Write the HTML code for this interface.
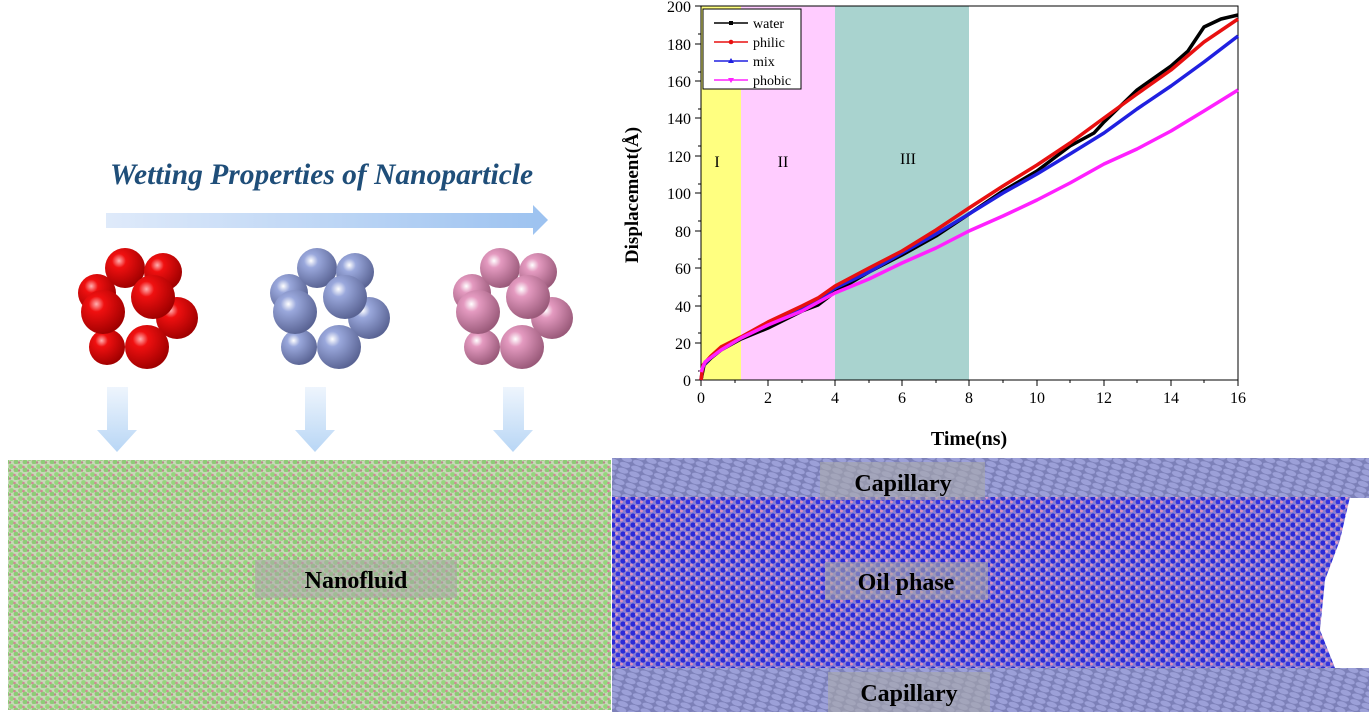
<!DOCTYPE html>
<html><head><meta charset="utf-8"><style>
html,body{margin:0;padding:0;background:#fff;}
svg{display:block;font-family:"Liberation Serif",serif;}
</style></head><body>
<svg width="1369" height="712" viewBox="0 0 1369 712" xmlns="http://www.w3.org/2000/svg">
<defs>
<linearGradient id="arr" x1="0" x2="1"><stop offset="0" stop-color="#dfeafa"/><stop offset="1" stop-color="#9cc2f0"/></linearGradient>
<linearGradient id="darr" x1="0" x2="0" y1="0" y2="1"><stop offset="0" stop-color="#eef5fd"/><stop offset="1" stop-color="#b8d6f5"/></linearGradient>
<radialGradient id="gr" cx="0.35" cy="0.32" r="0.7"><stop offset="0" stop-color="#ffb0b0"/><stop offset="0.25" stop-color="#f01010"/><stop offset="1" stop-color="#a00000"/></radialGradient>
<radialGradient id="gb" cx="0.35" cy="0.32" r="0.7"><stop offset="0" stop-color="#ffffff"/><stop offset="0.25" stop-color="#9aa8dc"/><stop offset="1" stop-color="#5a6494"/></radialGradient>
<radialGradient id="gp" cx="0.35" cy="0.32" r="0.7"><stop offset="0" stop-color="#ffffff"/><stop offset="0.25" stop-color="#e49ac0"/><stop offset="1" stop-color="#9a5a7a"/></radialGradient>
<pattern id="nf" width="9" height="8" patternUnits="userSpaceOnUse">
<rect width="9" height="8" fill="#c8d8b8"/>
<circle cx="2.5" cy="2.5" r="2.4" fill="#94d67c"/><circle cx="7" cy="6" r="2.4" fill="#8ccc76"/>
<circle cx="5.5" cy="3" r="1.3" fill="#d08898"/><circle cx="1" cy="6.5" r="1.2" fill="#b88a8a"/>
</pattern>
<pattern id="oil" width="10" height="9" patternUnits="userSpaceOnUse">
<rect width="10" height="9" fill="#8a7fd0"/>
<circle cx="3" cy="3" r="2.6" fill="#2a2ad8"/><circle cx="8" cy="7" r="2.4" fill="#3434e0"/>
<circle cx="6.5" cy="2.5" r="1.4" fill="#e8a0c8"/><circle cx="1.5" cy="7" r="1.4" fill="#dd90c0"/>
</pattern>
<pattern id="cap" width="12" height="6" patternUnits="userSpaceOnUse" patternTransform="rotate(18)">
<rect width="12" height="6" fill="#7c80b8"/>
<ellipse cx="6" cy="3" rx="5.5" ry="2.6" fill="#9ca0d8"/>
</pattern>
<g id="cl">
<circle cx="97" cy="293" r="19"/><circle cx="125" cy="268" r="20"/><circle cx="163" cy="272" r="19"/>
<circle cx="177" cy="318" r="21"/><circle cx="107" cy="347" r="18"/>
<circle cx="103" cy="312" r="22"/><circle cx="153" cy="297" r="22"/><circle cx="147" cy="347" r="22"/>
</g>
</defs>

<text x="110" y="184" font-size="29.5" font-weight="bold" font-style="italic" fill="#1f4e79">Wetting Properties of Nanoparticle</text>
<polygon points="106,213 533,213 533,205 548,220 533,235 533,228 106,228" fill="url(#arr)"/>
<g fill="url(#darr)">
<polygon points="107,387 128,387 128,430 137,430 117,452 97,430 107,430"/>
<polygon points="305,387 326,387 326,430 335,430 315,452 295,430 305,430"/>
<polygon points="503,387 524,387 524,430 533,430 513,452 493,430 503,430"/>
</g>
<use href="#cl" fill="url(#gr)"/>
<use href="#cl" fill="url(#gb)" transform="translate(192,0)"/>
<use href="#cl" fill="url(#gp)" transform="translate(375,0)"/>

<rect x="701" y="6" width="40" height="374" fill="#ffff80"/>
<rect x="741" y="6" width="94" height="374" fill="#ffccff"/>
<rect x="835" y="6" width="134" height="374" fill="#a9d3cf"/>
<rect x="701" y="6" width="537" height="374" fill="none" stroke="#000" stroke-width="1"/>
<g stroke="#000" stroke-width="1">
<path d="M701,380v6M735,380v3M768,380v6M802,380v3M835,380v6M869,380v3M902,380v6M936,380v3M969,380v6M1003,380v3M1037,380v6M1070,380v3M1104,380v6M1137,380v3M1171,380v6M1204,380v3M1238,380v6"/>
<path d="M701,380h-6M701,371h-3M701,343h-6M701,333h-3M701,306h-6M701,296h-3M701,268h-6M701,259h-3M701,231h-6M701,221h-3M701,193h-6M701,184h-3M701,156h-6M701,146h-3M701,118h-6M701,109h-3M701,81h-6M701,72h-3M701,44h-6M701,34h-3M701,6h-6"/>
</g>
<g font-size="16" fill="#000" text-anchor="middle">
<text x="701" y="403">0</text><text x="768" y="403">2</text><text x="835" y="403">4</text><text x="902" y="403">6</text><text x="969" y="403">8</text><text x="1037" y="403">10</text><text x="1104" y="403">12</text><text x="1171" y="403">14</text><text x="1238" y="403">16</text>
</g>
<g font-size="16" fill="#000" text-anchor="end">
<text x="691" y="386">0</text><text x="691" y="349">20</text><text x="691" y="312">40</text><text x="691" y="274">60</text><text x="691" y="237">80</text><text x="691" y="199">100</text><text x="691" y="162">120</text><text x="691" y="124">140</text><text x="691" y="87">160</text><text x="691" y="50">180</text><text x="691" y="12">200</text>
</g>
<text x="969" y="445" font-size="20" font-weight="bold" text-anchor="middle">Time(ns)</text>
<text transform="translate(638,195) rotate(-90)" font-size="19" font-weight="bold" text-anchor="middle">Displacement(Å)</text>
<g font-size="16" text-anchor="middle"><text x="717" y="167">I</text><text x="783" y="167">II</text><text x="908" y="164">III</text></g>
<g fill="none" stroke-width="3.5" stroke-linejoin="round">
<polyline stroke="#000" points="701,380 704,365 711,358 721,350 741,339 768,328 802,311 818,305 835,292 869,272 902,255 936,236 969,214 1003,191 1037,171 1070,146 1094,133 1104,122 1137,90 1171,66 1188,51 1204,27 1221,19 1238,15"/>
<polyline stroke="#2020e0" points="701,380 703,366 711,357 721,349 741,338 768,324 802,308 818,300 835,288 869,272 902,253 936,234 969,214 1003,193 1037,174 1070,154 1104,133 1137,109 1171,86 1204,62 1238,36"/>
<polyline stroke="#e81010" points="701,380 703,365 711,356 721,347 741,337 768,322 802,306 818,298 835,286 869,268 902,251 936,230 969,208 1003,186 1037,165 1070,143 1104,118 1137,94 1171,70 1204,42 1238,19"/>
<polyline stroke="#ff20ff" points="701,372 705,362 721,350 741,338 768,325 802,311 835,293 869,279 902,263 936,248 969,231 1003,216 1037,200 1070,183 1104,164 1137,149 1171,131 1204,111 1238,90"/>
</g>
<rect x="703" y="9" width="98" height="80" fill="#fff" stroke="#000" stroke-width="1"/>
<g stroke-width="1.5"><path d="M714,23h34" stroke="#000"/><path d="M714,42h34" stroke="#e81010"/><path d="M714,61h34" stroke="#2020e0"/><path d="M714,80h34" stroke="#ff20ff"/></g>
<rect x="729" y="21" width="4" height="4"/><circle cx="731" cy="42" r="2.3" fill="#e81010"/><polygon points="731,58 734,63 728,63" fill="#2020e0"/><polygon points="728,78 734,78 731,83" fill="#ff20ff"/>
<g font-size="14"><text x="753" y="28">water</text><text x="753" y="47">philic</text><text x="753" y="66">mix</text><text x="753" y="85">phobic</text></g>

<rect x="8" y="460" width="603" height="250" fill="url(#nf)"/>
<rect x="612" y="458" width="757" height="40" fill="url(#cap)"/>
<rect x="612" y="668" width="757" height="44" fill="url(#cap)"/>
<polygon points="612,497 1350,497 1340,540 1325,580 1320,630 1335,668 612,668" fill="url(#oil)"/>
<rect x="255" y="560" width="202" height="38" fill="#a8a8a8" opacity="0.55"/>
<rect x="820" y="462" width="165" height="38" fill="#a8a8a8" opacity="0.6"/>
<rect x="825" y="562" width="163" height="38" fill="#a8a8a8" opacity="0.6"/>
<rect x="828" y="672" width="162" height="40" fill="#a8a8a8" opacity="0.6"/>
<g font-size="24" font-weight="bold" text-anchor="middle" fill="#000">
<text x="356" y="588">Nanofluid</text>
<text x="903" y="491">Capillary</text>
<text x="906" y="590">Oil phase</text>
<text x="909" y="701">Capillary</text>
</g>
</svg>
</body></html>
